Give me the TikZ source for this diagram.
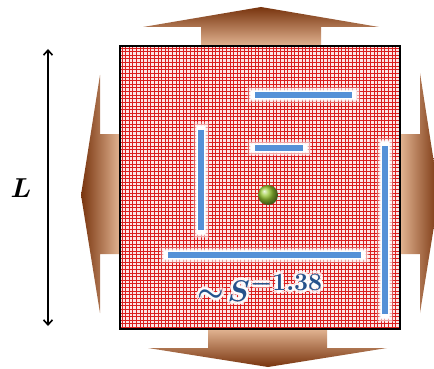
\documentclass[tikz,border=0pt]{standalone}
\usetikzlibrary{arrows.meta}
\definecolor{brdark}{RGB}{120,52,14}
\definecolor{brmid}{RGB}{180,104,54}
\definecolor{brlight}{RGB}{226,180,146}
\definecolor{gridred}{RGB}{218,30,30}
\definecolor{gridbg}{RGB}{252,230,230}
\definecolor{barblue}{RGB}{85,145,215}
\definecolor{txtblue}{RGB}{38,82,140}
\definecolor{ballgreen}{RGB}{150,200,50}
\tikzset{
  glowA/.style={white, line width=16pt, opacity=0.25, line cap=rect},
  glowB/.style={white, line width=13pt, opacity=0.45, line cap=rect},
  glowB2/.style={white, line width=10.5pt, opacity=0.7, line cap=rect},
  glowC/.style={white, line width=8.5pt, line cap=rect},
  barline/.style={barblue, line width=5.5pt, line cap=butt},
  gridline/.style={gridred, line width=0.55pt},
  boxframe/.style={black, line width=2.5pt},
  larrow/.style={{Straight Barb[length=5pt,width=9pt,line width=1.6pt]}-{Straight Barb[length=5pt,width=9pt,line width=1.6pt]}, line width=1.6pt},
  sfont/.style={font=\fontsize{30}{30}\selectfont\boldmath, inner sep=0pt, scale=1.2},
  bigtxt/.style={sfont, text=txtblue},
  glowtxt/.style={sfont, text=white, text opacity=0.8}
}
\newcommand{\glowbar}[2]{%
  \draw[glowA] #1 -- #2; \draw[glowB] #1 -- #2; \draw[glowB2] #1 -- #2; \draw[glowC] #1 -- #2; \draw[barline] #1 -- #2;}
\begin{document}
\begin{tikzpicture}[x=1pt,y=-1pt]
\useasboundingbox (0,0) rectangle (434,369);
% big arrows
\shade[top color=brdark, middle color=brmid, bottom color=brlight]
  (261,7) -- (379,27) -- (321,27) -- (321,46) -- (201,46) -- (201,27) -- (143,27) -- cycle;
\shade[bottom color=brdark, middle color=brmid, top color=brlight]
  (268,367) -- (387,348) -- (327,348) -- (327,329) -- (208,329) -- (208,348) -- (148,348) -- cycle;
\shade[left color=brdark, middle color=brmid, right color=brlight]
  (81,195) -- (100,75) -- (100,134) -- (120,134) -- (120,254) -- (100,254) -- (100,313) -- cycle;
\shade[right color=brdark, middle color=brmid, left color=brlight]
  (439,195) -- (420,73) -- (420,134) -- (400,134) -- (400,254) -- (420,254) -- (420,313) -- cycle;
% grid square
\fill[gridbg] (120,46) rectangle (400,329);
\foreach \i in {0,...,77} {
  \draw[gridline] (121.8+3.6*\i,46) -- (121.8+3.6*\i,329);
  \draw[gridline] (120,47.8+3.63*\i) -- (400,47.8+3.63*\i);
}
\draw[boxframe] (120,46) rectangle (400,329);
% bars
\glowbar{(255,95)}{(352,95)}
\glowbar{(255,148)}{(303,148)}
\glowbar{(201,130)}{(201,230)}
\glowbar{(385,146)}{(385,314)}
\glowbar{(168,255)}{(361,255)}
% ball
\shade[ball color=ballgreen] (268,195) circle [radius=10pt];
% text with glow
\node[glowtxt] (ga) at (263,288) {$\sim\!S^{-1.38}$};
\node[glowtxt] (gb) at (257,288) {$\sim\!S^{-1.38}$};
\node[glowtxt] (gc) at (260,291) {$\sim\!S^{-1.38}$};
\node[glowtxt] (gd) at (260,285) {$\sim\!S^{-1.38}$};
\node[glowtxt] (ge) at (262.1,290.1) {$\sim\!S^{-1.38}$};
\node[glowtxt] (gf) at (257.9,290.1) {$\sim\!S^{-1.38}$};
\node[glowtxt] (gg) at (262.1,285.9) {$\sim\!S^{-1.38}$};
\node[glowtxt] (gh) at (257.9,285.9) {$\sim\!S^{-1.38}$};
\node[bigtxt] (s) at (260,288) {$\sim\!S^{-1.38}$};
% L arrow
\coordinate (ltop) at (48,49);
\coordinate (lbot) at (48,326);
\draw[larrow] (ltop) -- (lbot);
\node[font=\fontsize{26}{26}\selectfont\boldmath, scale=1.1] (lab) at (21,188) {$L$};
\end{tikzpicture}
\end{document}
